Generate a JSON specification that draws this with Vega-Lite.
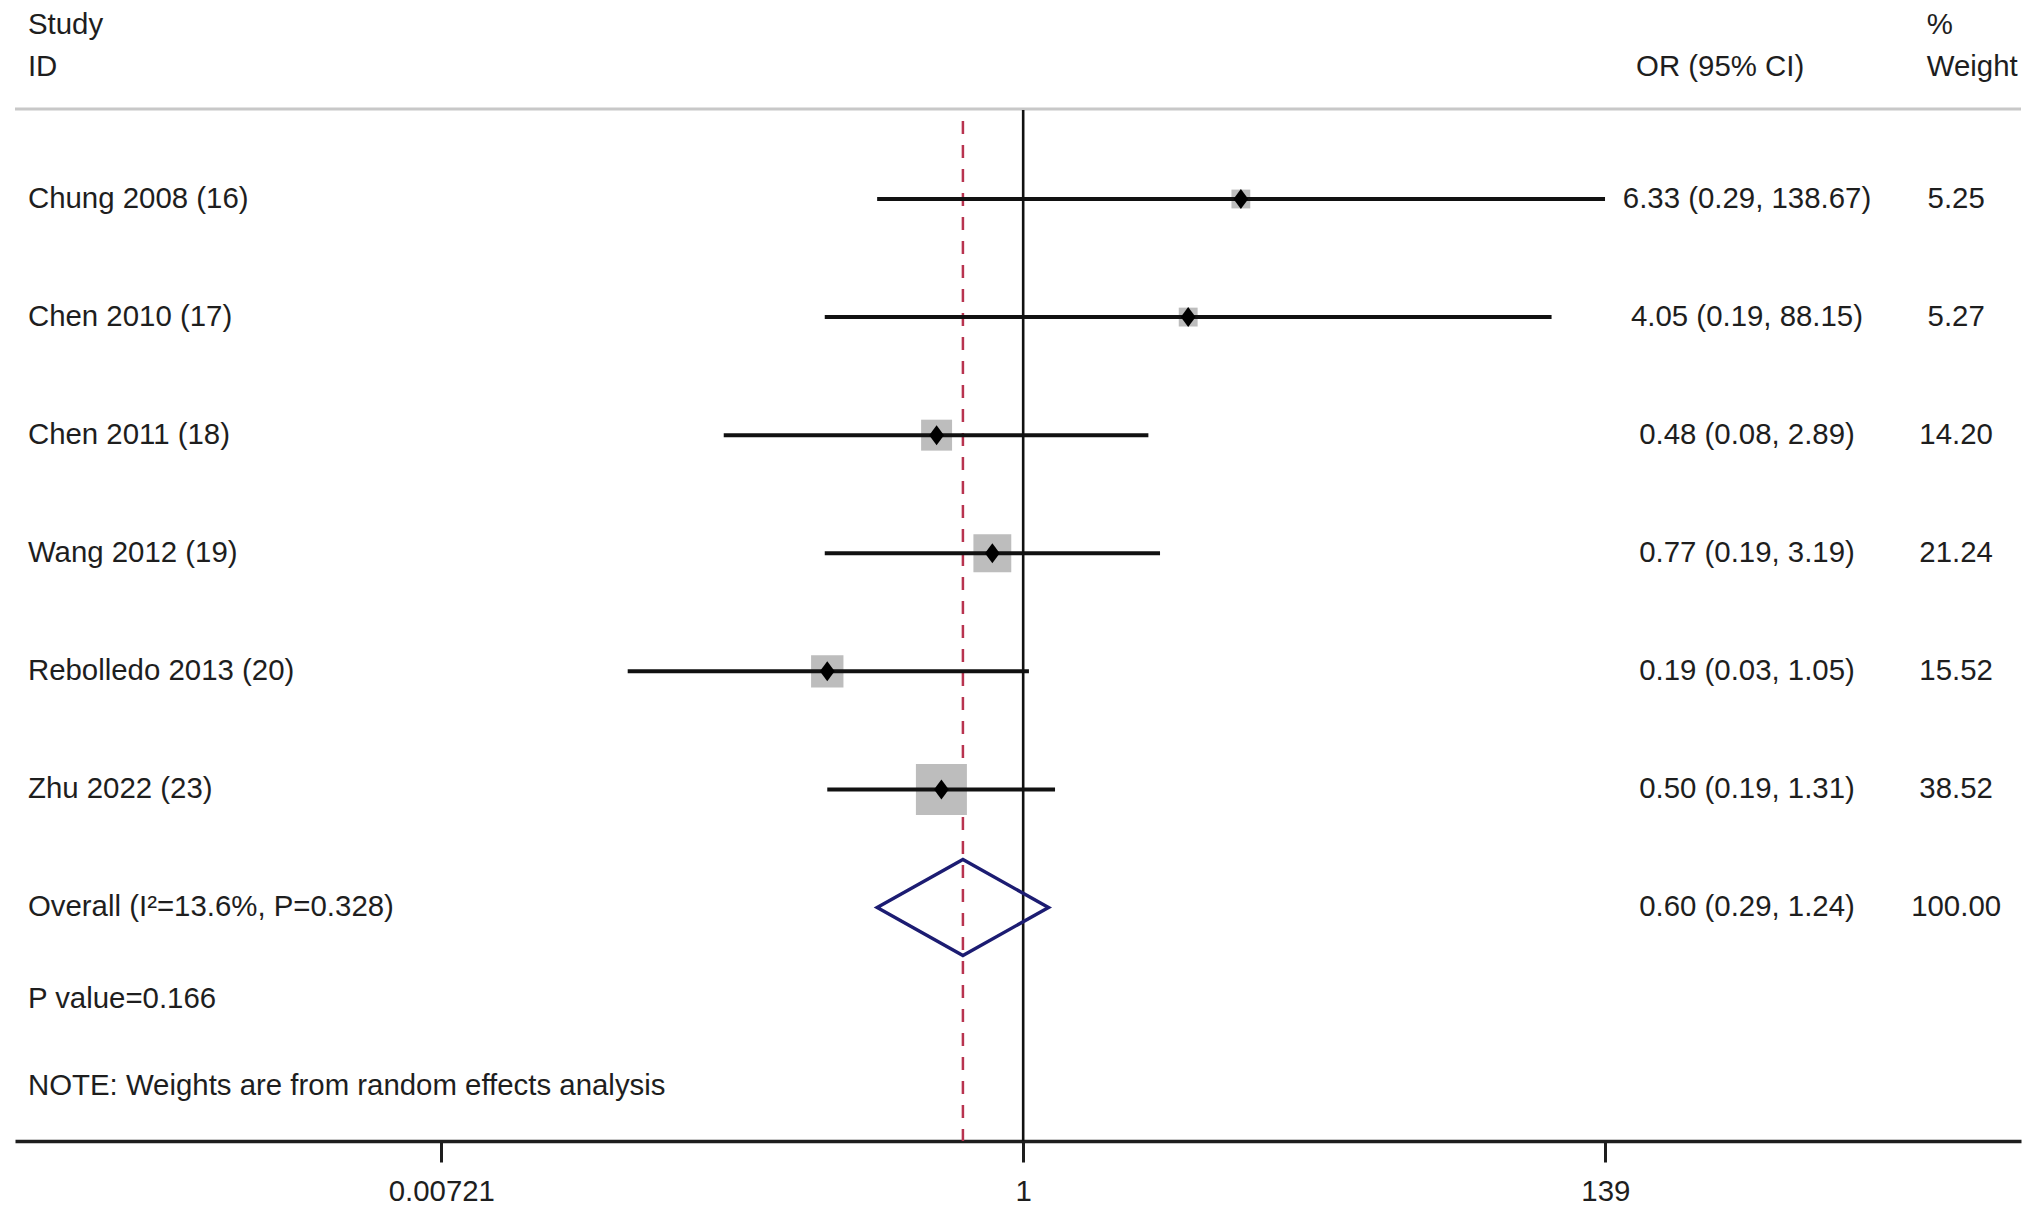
{
  "$schema": "https://vega.github.io/schema/vega-lite/v6.json",
  "width": 2006,
  "height": 1141,
  "padding": {"left": 13, "right": 13, "top": 0, "bottom": 0},
  "autosize": {"type": "pad"},
  "background": "white",
  "config": {
    "view": {"stroke": null},
    "font": "Liberation Sans",
    "text": {"font": "Liberation Sans", "fontSize": 29.4, "color": "#1e1e1e", "baseline": "middle"},
    "axisX": {
      "domainColor": "#1e1e1e", "domainWidth": 3.5, "tickColor": "#1e1e1e", "tickWidth": 3, "tickSize": 21,
      "labelFont": "Liberation Sans", "labelFontSize": 29.4, "labelColor": "#1e1e1e", "labelPadding": 15,
      "grid": false, "labelFlush": false, "labelOverlap": false
    }
  },
  "datasets": {
    "rows": [
      {"study": "Chung 2008 (16)", "row": 1, "kind": "study", "or": 6.33, "lo": 0.29, "hi": 138.67, "weight": 5.25, "ci": "6.33 (0.29, 138.67)", "wt": "5.25"},
      {"study": "Chen 2010 (17)", "row": 2, "kind": "study", "or": 4.05, "lo": 0.186, "hi": 88.15, "weight": 5.27, "ci": "4.05 (0.19, 88.15)", "wt": "5.27"},
      {"study": "Chen 2011 (18)", "row": 3, "kind": "study", "or": 0.48, "lo": 0.079, "hi": 2.89, "weight": 14.20, "ci": "0.48 (0.08, 2.89)", "wt": "14.20"},
      {"study": "Wang 2012 (19)", "row": 4, "kind": "study", "or": 0.77, "lo": 0.186, "hi": 3.19, "weight": 21.24, "ci": "0.77 (0.19, 3.19)", "wt": "21.24"},
      {"study": "Rebolledo 2013 (20)", "row": 5, "kind": "study", "or": 0.19, "lo": 0.035, "hi": 1.05, "weight": 15.52, "ci": "0.19 (0.03, 1.05)", "wt": "15.52"},
      {"study": "Zhu 2022 (23)", "row": 6, "kind": "study", "or": 0.50, "lo": 0.19, "hi": 1.31, "weight": 38.52, "ci": "0.50 (0.19, 1.31)", "wt": "38.52"},
      {"study": "Overall (I²=13.6%, P=0.328)", "row": 7, "kind": "overall", "or": 0.60, "lo": 0.29, "hi": 1.24, "weight": 100, "ci": "0.60 (0.29, 1.24)", "wt": "100.00"}
    ],
    "diamond": [
      {"x": 0.29, "y": 7, "y2": 7},
      {"x": 0.60, "y": 6.5935, "y2": 7.4065},
      {"x": 1.24, "y": 7, "y2": 7}
    ],
    "notes": [
      {"text": "P value=0.166", "row": 7.7776},
      {"text": "NOTE: Weights are from random effects analysis", "row": 8.512}
    ],
    "headLeft": [
      {"text": "Study", "row": -0.477},
      {"text": "ID", "row": -0.1154}
    ],
    "headWeight": [
      {"text": "%", "row": -0.477},
      {"text": "Weight", "row": -0.1154}
    ],
    "headOR": [
      {"text": "OR (95% CI)", "row": -0.1154}
    ],
    "nullLine": [{"x": 1}]
  },
  "layer": [
    {
      "data": {"values": [{"row": 0.2378}]},
      "mark": {"type": "rule", "stroke": "#c8c8c8", "strokeWidth": 3},
      "encoding": {
        "y": {"field": "row", "type": "quantitative", "scale": {"domain": [-0.6853, 8.9776], "reverse": true, "nice": false, "zero": false}, "axis": null}
      }
    },
    {
      "data": {"name": "nullLine"},
      "mark": {"type": "rule", "stroke": "#111111", "strokeWidth": 2.6},
      "encoding": {
        "x": {"field": "x", "type": "quantitative", "title": null, "scale": {"type": "log", "domain": [0.0001943, 4714], "nice": false},
              "axis": {"values": [0.00721, 1, 139], "format": "~g", "title": null}},
        "y": {"datum": 0.2463, "type": "quantitative", "axis": null},
        "y2": {"datum": 8.9776}
      }
    },
    {
      "data": {"name": "rows"},
      "transform": [{"filter": "datum.kind == 'overall'"}],
      "mark": {"type": "rule", "stroke": "#b8334f", "strokeWidth": 2.5, "strokeDash": [13, 11]},
      "encoding": {
        "x": {"field": "or", "type": "quantitative", "title": null},
        "y": {"datum": 0.3394, "type": "quantitative", "axis": null},
        "y2": {"datum": 8.9776}
      }
    },
    {
      "data": {"name": "rows"},
      "transform": [{"filter": "datum.kind == 'study'"}],
      "mark": {"type": "point", "shape": "square", "filled": true, "color": "#bdbdbd", "opacity": 1},
      "encoding": {
        "x": {"field": "or", "type": "quantitative", "title": null},
        "y": {"field": "row", "type": "quantitative", "axis": null},
        "size": {"field": "weight", "type": "quantitative", "scale": {"type": "linear", "domain": [0, 100], "range": [0, 6750]}, "legend": null}
      }
    },
    {
      "data": {"name": "rows"},
      "transform": [{"filter": "datum.kind == 'study'"}],
      "mark": {"type": "rule", "stroke": "#111111", "strokeWidth": 4},
      "encoding": {
        "x": {"field": "lo", "type": "quantitative", "title": null},
        "x2": {"field": "hi"},
        "y": {"field": "row", "type": "quantitative", "axis": null}
      }
    },
    {
      "data": {"name": "rows"},
      "transform": [{"filter": "datum.kind == 'study'"}],
      "mark": {"type": "point", "shape": "M-0.74,0L0,-1L0.74,0L0,1Z", "filled": true, "color": "#000000", "opacity": 1, "size": 400},
      "encoding": {
        "x": {"field": "or", "type": "quantitative", "title": null},
        "y": {"field": "row", "type": "quantitative", "axis": null}
      }
    },
    {
      "data": {"name": "diamond"},
      "mark": {"type": "area", "fill": "#ffffff", "fillOpacity": 0, "stroke": "#1c1c72", "strokeWidth": 3.4, "interpolate": "linear", "orient": "vertical"},
      "encoding": {
        "x": {"field": "x", "type": "quantitative", "title": null},
        "y": {"field": "y", "type": "quantitative", "axis": null},
        "y2": {"field": "y2"}
      }
    },
    {
      "data": {"name": "rows"},
      "mark": {"type": "text", "align": "left"},
      "encoding": {
        "x": {"datum": 0.0002168, "type": "quantitative", "title": null},
        "y": {"field": "row", "type": "quantitative", "axis": null},
        "text": {"field": "study"}
      }
    },
    {
      "data": {"name": "rows"},
      "mark": {"type": "text", "align": "center"},
      "encoding": {
        "x": {"datum": 462, "type": "quantitative", "title": null},
        "y": {"field": "row", "type": "quantitative", "axis": null},
        "text": {"field": "ci"}
      }
    },
    {
      "data": {"name": "rows"},
      "mark": {"type": "text", "align": "center"},
      "encoding": {
        "x": {"datum": 2720, "type": "quantitative", "title": null},
        "y": {"field": "row", "type": "quantitative", "axis": null},
        "text": {"field": "wt"}
      }
    },
    {
      "data": {"name": "notes"},
      "mark": {"type": "text", "align": "left"},
      "encoding": {
        "x": {"datum": 0.0002168, "type": "quantitative", "title": null},
        "y": {"field": "row", "type": "quantitative", "axis": null},
        "text": {"field": "text"}
      }
    },
    {
      "data": {"name": "headLeft"},
      "mark": {"type": "text", "align": "left"},
      "encoding": {
        "x": {"datum": 0.0002168, "type": "quantitative", "title": null},
        "y": {"field": "row", "type": "quantitative", "axis": null},
        "text": {"field": "text"}
      }
    },
    {
      "data": {"name": "headOR"},
      "mark": {"type": "text", "align": "center"},
      "encoding": {
        "x": {"datum": 368, "type": "quantitative", "title": null},
        "y": {"field": "row", "type": "quantitative", "axis": null},
        "text": {"field": "text"}
      }
    },
    {
      "data": {"name": "headWeight"},
      "mark": {"type": "text", "align": "left"},
      "encoding": {
        "x": {"datum": 2120, "type": "quantitative", "title": null},
        "y": {"field": "row", "type": "quantitative", "axis": null},
        "text": {"field": "text"}
      }
    }
  ]
}
